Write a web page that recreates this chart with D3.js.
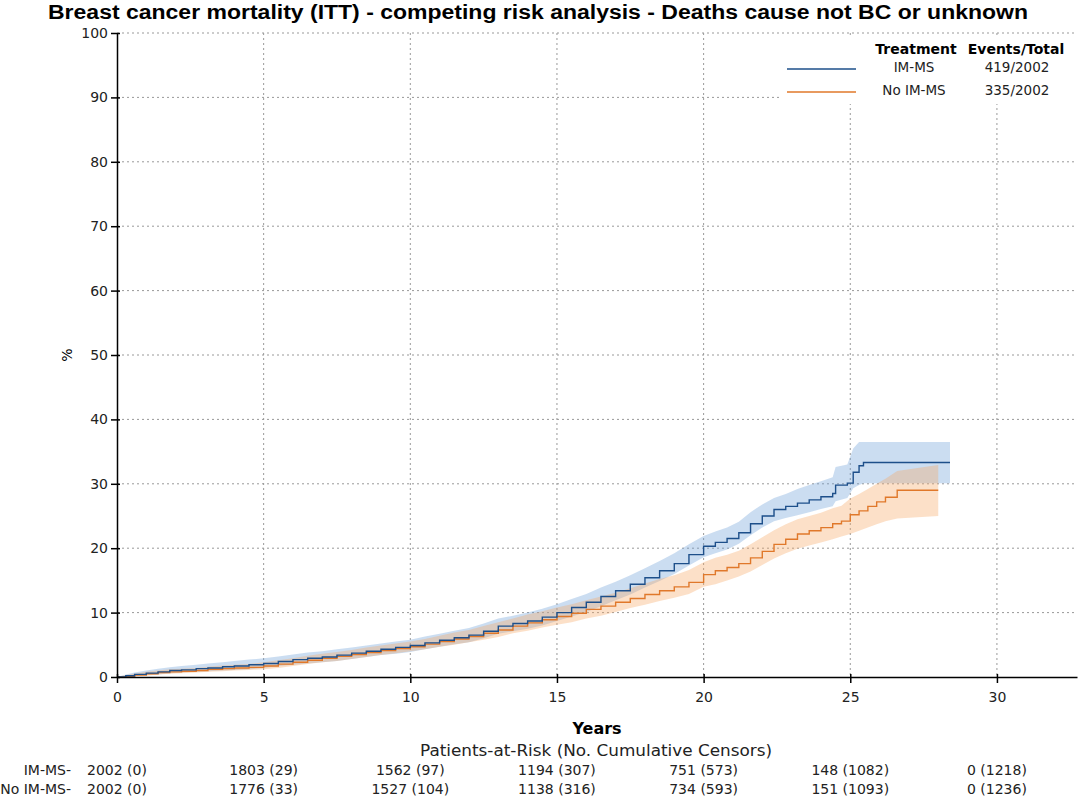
<!DOCTYPE html>
<html><head><meta charset="utf-8">
<script src="https://cdn.jsdelivr.net/npm/d3@7"></script>
<style>body{margin:0;background:#fff;} text{font-family:"DejaVu Sans",Verdana,sans-serif;}</style>
</head><body>
<svg id="c" width="1080" height="799"></svg>
<script>
const title = "Breast cancer mortality (ITT) - competing risk analysis - Deaths cause not BC or unknown";
const xTicks = [0,5,10,15,20,25,30];
const yTicks = [0,10,20,30,40,50,60,70,80,90,100];
const groups = ["IM-MS","No IM-MS"];
const events = ["419/2002","335/2002"];
const riskIM = ["2002 (0)","1803 (29)","1562 (97)","1194 (307)","751 (573)","148 (1082)","0 (1218)"];
const riskNo = ["2002 (0)","1776 (33)","1527 (104)","1138 (316)","734 (593)","151 (1093)","0 (1236)"];

const timesIM = [0,0.3,0.6,1.0,1.4,1.8,2.2,2.7,3.1,3.6,4.0,4.5,5.0,5.5,6.0,6.5,7.0,7.5,8.0,8.5,9.0,9.5,10.0,10.5,11.0,11.5,12.0,12.5,13.0,13.5,14.0,14.5,15.0,15.5,16.0,16.5,17.0,17.5,18.0,18.5,19.0,19.5,20.0,20.4,20.8,21.2,21.6,22.0,22.4,22.8,23.2,23.6,24.0,24.4,24.5,24.9,25.1,25.3,25.45,28.4];
const valIM = [0,0.2,0.4,0.6,0.8,1.0,1.1,1.3,1.4,1.6,1.7,1.9,2.1, 2.4,2.7,2.9,3.1,3.4,3.7,4.0,4.3,4.6,4.9, 5.3,5.7,6.1,6.5,7.1,7.9,8.3,8.7,9.3,10.0, 10.8,11.6,12.5,13.4,14.4,15.4,16.5,17.6,19.0,20.3, 20.9,21.5,22.4,23.8,25.0,26.0,26.5,27.0,27.5,28.0, 28.5,29.8,30.1,31.8,32.8,33.3,33.3];
const upIM = [0,0.4,0.7,1.0,1.3,1.5,1.7,1.9,2.1,2.3,2.5,2.7,2.9, 3.2,3.5,3.8,4.0,4.3,4.6,4.9,5.2,5.5,5.8, 6.3,6.7,7.2,7.6,8.3,9.1,9.5,10.0,10.6,11.3, 12.1,12.9,13.9,14.8,15.8,16.9,18.0,19.2,20.6,21.9, 22.6,23.2,24.1,25.6,26.8,27.8,28.4,29.2,29.8,30.4, 31.0,32.6,33.0,35.5,36.5,36.5,36.5];
const loIM = [0,0.05,0.2,0.3,0.4,0.6,0.7,0.8,0.9,1.0,1.1,1.2,1.4, 1.7,1.9,2.1,2.3,2.5,2.8,3.1,3.4,3.6,3.9, 4.3,4.7,5.1,5.4,6.0,6.7,7.1,7.5,8.0,8.7, 9.4,10.1,11.0,11.9,12.8,13.9,14.9,16.0,17.3,18.6, 19.2,19.8,20.7,22.0,23.2,24.2,24.7,25.1,25.6,26.1, 26.5,27.3,27.8,29.3,29.8,30.1,30.1];

const timesNo = [0,0.3,0.6,1.0,1.4,1.8,2.2,2.7,3.1,3.6,4.0,4.5,5.0,5.5,6.0,6.5,7.0,7.5,8.0,8.5,9.0,9.5,10.0,10.5,11.0,11.5,12.0,12.5,13.0,13.5,14.0,14.5,15.0,15.5,16.0,16.5,17.0,17.5,18.0,18.5,19.0,19.5,20.0,20.4,20.8,21.2,21.6,22.0,22.4,22.8,23.2,23.6,24.0,24.4,24.7,25.0,25.3,25.6,25.9,26.2,26.6,28.0];
const valNo = [0,0.1,0.3,0.5,0.7,0.8,0.9,1.0,1.2,1.3,1.4,1.5,1.7, 2.0,2.3,2.6,2.9,3.2,3.5,3.8,4.1,4.4,4.7, 5.1,5.5,5.9,6.3,6.8,7.3,7.9,8.4,8.9,9.4, 9.9,10.5,11.0,11.6,12.2,12.8,13.4,14.0,14.7,15.9, 16.5,17.0,17.6,18.5,19.5,20.6,21.4,22.2,22.7,23.2, 23.8,24.2,25.2,25.8,26.5,27.2,27.9,29.0,29.0];
const upNo = [0,0.3,0.5,0.8,1.0,1.2,1.3,1.4,1.6,1.8,1.9,2.0,2.3, 2.6,2.9,3.3,3.6,3.9,4.2,4.6,4.9,5.2,5.5, 5.9,6.4,6.9,7.3,7.9,8.5,9.1,9.7,10.2,10.8, 11.3,11.9,12.5,13.1,13.8,14.5,15.2,15.8,16.6,17.8, 18.5,19.0,19.6,20.6,21.7,22.8,23.7,24.5,25.0,25.5, 26.2,26.6,27.7,28.4,29.2,30.0,30.8,32.0,32.9];
const loNo = [0,0,0.1,0.2,0.4,0.5,0.6,0.7,0.8,0.9,1.0,1.1,1.2, 1.4,1.7,2.0,2.3,2.5,2.8,3.1,3.4,3.7,4.0, 4.3,4.7,5.0,5.4,5.8,6.2,6.8,7.2,7.7,8.1, 8.5,9.1,9.5,10.1,10.7,11.2,11.8,12.3,12.9,14.0, 14.4,15.0,15.6,16.4,17.4,18.4,19.2,19.9,20.4,20.9, 21.4,21.8,22.2,22.7,23.2,23.7,24.2,24.6,25.0];

const svg = d3.select("#c");
const m = {l:117, r:1077, t:33, b:677};
const x = d3.scaleLinear().domain([0,32.73]).range([m.l,m.r]);
const y = d3.scaleLinear().domain([0,100]).range([m.b,m.t]);

// title
svg.append("text").attr("x",538).attr("y",19).attr("text-anchor","middle").style("font-family","'Liberation Sans',Arial,sans-serif")
  .attr("font-size",20).attr("font-weight","bold").attr("textLength",980).attr("lengthAdjust","spacingAndGlyphs").text(title);

// grid
const grid = svg.append("g").attr("stroke","#999").attr("stroke-width",1).attr("stroke-dasharray","2,3");
xTicks.filter(d=>d>0).forEach(d=>grid.append("line").attr("x1",x(d)).attr("x2",x(d)).attr("y1",m.t).attr("y2",m.b));
yTicks.filter(d=>d>0).forEach(d=>grid.append("line").attr("x1",m.l).attr("x2",m.r).attr("y1",y(d)).attr("y2",y(d)));

function mk(t,v){return t.map((d,i)=>[d,v[i]]);}
const area = d3.area().curve(d3.curveLinear).x(d=>x(d.t)).y0(d=>y(d.lo)).y1(d=>y(d.hi));
const line = d3.line().curve(d3.curveStepAfter).x(d=>x(d[0])).y(d=>y(d[1]));
const bandIM = timesIM.map((t,i)=>({t,lo:loIM[i],hi:upIM[i]}));
const bandNo = timesNo.map((t,i)=>({t,lo:loNo[i],hi:upNo[i]}));
svg.append("path").attr("d",area(bandIM)).attr("fill","#6b9fd6").attr("fill-opacity",0.35);
svg.append("path").attr("d",area(bandNo)).attr("fill","#f6a660").attr("fill-opacity",0.35);
svg.append("path").attr("d",line(mk(timesNo,valNo))).attr("fill","none").attr("stroke","#e0782a").attr("stroke-width",1.4);
svg.append("path").attr("d",line(mk(timesIM,valIM))).attr("fill","none").attr("stroke","#1d4f8a").attr("stroke-width",1.4);

// axes
const xa = svg.append("g").attr("transform",`translate(0,${m.b})`).call(d3.axisBottom(x).tickValues(xTicks).tickSize(6).tickSizeOuter(0));
const ya = svg.append("g").attr("transform",`translate(${m.l},0)`).call(d3.axisLeft(y).tickValues(yTicks).tickSize(6).tickSizeOuter(0));
[xa,ya].forEach(a=>{a.selectAll("path,line").attr("stroke","#000").attr("stroke-width",1.5);
  a.selectAll("text").attr("font-size",14).attr("fill","#222").style("font-family","'DejaVu Sans',Verdana,sans-serif");});
xa.selectAll("text").attr("dy","1.15em");
xa.selectAll(".tick line").attr("y1",-3);
ya.selectAll(".tick line").attr("x1",3);

// labels
svg.append("text").attr("transform","translate(72,355) rotate(-90)").attr("text-anchor","middle").attr("font-size",14).text("%");
svg.append("text").attr("x",597).attr("y",734).attr("text-anchor","middle").attr("font-size",16).attr("font-weight","bold").text("Years");

// legend
const lg = svg.append("g");
lg.append("rect").attr("x",782).attr("y",36).attr("width",295).attr("height",68).attr("fill","#fff");
lg.append("text").attr("x",916).attr("y",54).attr("text-anchor","middle").attr("font-size",14).attr("font-weight","bold").text("Treatment");
lg.append("text").attr("x",1016).attr("y",54).attr("text-anchor","middle").attr("font-size",14).attr("font-weight","bold").text("Events/Total");
const lc = ["#1d4f8a","#e0782a"];
groups.forEach((g,i)=>{
  const yy = 69 + i*23;
  lg.append("line").attr("x1",787).attr("x2",856).attr("y1",yy).attr("y2",yy).attr("stroke",lc[i]).attr("stroke-width",1.4);
  lg.append("text").attr("x",914).attr("y",yy+3).attr("text-anchor","middle").attr("font-size",13.5).attr("fill","#222").text(g);
  lg.append("text").attr("x",1017).attr("y",yy+3).attr("text-anchor","middle").attr("font-size",13.5).attr("fill","#222").text(events[i]);
});

// risk table
svg.append("text").attr("x",596).attr("y",756).attr("text-anchor","middle").attr("font-size",16).attr("fill","#222")
  .attr("textLength",352).attr("lengthAdjust","spacingAndGlyphs").text("Patients-at-Risk (No. Cumulative Censors)");
[riskIM,riskNo].forEach((row,i)=>{
  const yy = 775 + i*19;
  svg.append("text").attr("x",71).attr("y",yy).attr("text-anchor","end").attr("font-size",14).attr("fill","#222").text(groups[i]+"-");
  row.forEach((v,j)=>svg.append("text").attr("x",x(xTicks[j])).attr("y",yy).attr("text-anchor","middle").attr("font-size",14).attr("fill","#222").text(v));
});
</script>
</body></html>
